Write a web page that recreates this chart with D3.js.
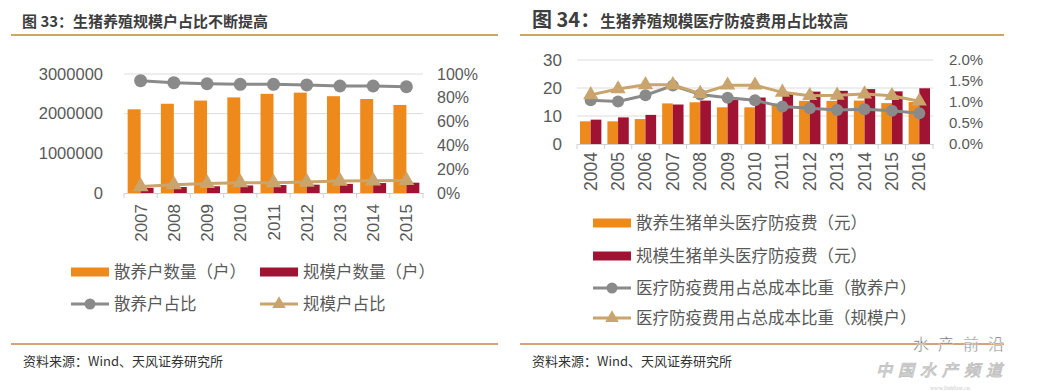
<!DOCTYPE html>
<html lang="zh">
<head>
<meta charset="UTF-8">
<title>生猪养殖规模</title>
<script src="https://d3js.org/d3.v7.min.js"></script>
<style>
  body { margin: 0; background: #fff; }
  svg { display: block; font-family: "Liberation Sans", "Noto Sans CJK SC", sans-serif; }
  .cjk { font-family: "Noto Sans CJK SC", sans-serif; }
</style>
</head>
<body>
<div id="chart"></div>
<script>
// ---- 图33 data ----
var years33 = ["2007", "2008", "2009", "2010", "2011", "2012", "2013", "2014", "2015"];
var sanyangCount = [2110000, 2250000, 2330000, 2410000, 2500000, 2530000, 2440000, 2370000, 2220000];
var guimoCount = [130000, 150000, 170000, 190000, 200000, 210000, 230000, 250000, 260000];
var sanyangShare = [94.4, 92.7, 91.8, 91.3, 91.3, 90.8, 89.9, 89.9, 89.3];
var guimoShare = [5.4, 7.0, 8.0, 8.6, 8.7, 9.2, 10.0, 10.2, 10.6];
var ticks33Left = [0, 1000000, 2000000, 3000000];
var ticks33Right = [0, 20, 40, 60, 80, 100];
var legend33 = ["散养户数量（户）", "规模户数量（户）", "散养户占比", "规模户占比"];

// ---- 图34 data ----
var years34 = ["2004", "2005", "2006", "2007", "2008", "2009", "2010", "2011", "2012", "2013", "2014", "2015", "2016"];
var sanyangFee = [8.1, 8.1, 8.9, 14.5, 14.9, 13.1, 13.1, 14.5, 15.4, 15.4, 15.5, 14.6, 15.0];
var guimoFee = [8.7, 9.5, 10.4, 14.1, 15.5, 15.7, 16.6, 17.9, 18.7, 19.0, 19.6, 18.8, 19.9];
var sanyangRatio = [1.04, 1.01, 1.16, 1.39, 1.18, 1.10, 1.04, 0.89, 0.85, 0.81, 0.83, 0.79, 0.73];
var guimoRatio = [1.17, 1.31, 1.41, 1.41, 1.20, 1.40, 1.40, 1.23, 1.15, 1.16, 1.19, 1.15, 1.02];
var ticks34Left = [0, 10, 20, 30];
var ticks34Right = [0, 0.5, 1.0, 1.5, 2.0];
var legend34 = ["散养生猪单头医疗防疫费（元）", "规模生猪单头医疗防疫费（元）",
    "医疗防疫费用占总成本比重（散养户）", "医疗防疫费用占总成本比重（规模户）"];

var ORANGE = "#ee8a1b", RED = "#a01332", GRAY = "#8a8a8a", TAN = "#c9a46c";
var TXT = "#595959", GRID = "#dcdcdc";

var svg = d3.select("#chart").append("svg")
    .attr("width", 1048)
    .attr("height", 391);

// frames: title, rules, source
function frame(x0, x1, titleParts) {
    var t = svg.append("text").attr("class", "cjk")
        .attr("x", titleParts.x).attr("y", titleParts.y)
        .attr("fill", "#3d3d3d").attr("font-weight", "bold");
    titleParts.parts.forEach(function(p) {
        t.append("tspan").attr("font-size", p.size).text(p.text);
    });
    svg.append("line").attr("x1", x0).attr("x2", x1).attr("y1", 35).attr("y2", 35)
        .attr("stroke", "#c9a862").attr("stroke-width", 2);
    svg.append("line").attr("x1", x0).attr("x2", x1).attr("y1", 344).attr("y2", 344)
        .attr("stroke", "#d3a47c").attr("stroke-width", 2);
    svg.append("text").attr("class", "cjk")
        .attr("x", x0 + 12).attr("y", 366)
        .attr("font-size", 13).attr("fill", "#333")
        .text("资料来源：Wind、天风证券研究所");
}

frame(11, 498, {x: 22, y: 27, parts: [{text: "图 33：生猪养殖规模户占比不断提高", size: 15}]});
frame(520, 1004, {x: 532, y: 27, parts: [{text: "图 34：", size: 20}, {text: "生猪养殖规模医疗防疫费用占比较高", size: 15.5}]});

function panel(cfg) {
    var g = svg.append("g");
    var x = d3.scaleBand().domain(cfg.years).range([cfg.x0, cfg.x1]).paddingInner(0).paddingOuter(0);
    var yl = d3.scaleLinear().domain(cfg.leftDomain).range([cfg.yBase, cfg.yTop]);
    var yr = d3.scaleLinear().domain(cfg.rightDomain).range([cfg.yBase, cfg.yTop]);

    // grid
    g.selectAll("line.grid").data(cfg.leftTicks.slice(1)).enter().append("line")
        .attr("x1", cfg.x0).attr("x2", cfg.x1)
        .attr("y1", function(d) { return yl(d); }).attr("y2", function(d) { return yl(d); })
        .attr("stroke", GRID).attr("stroke-width", 1);

    // left axis
    var la = g.append("g").attr("transform", "translate(" + cfg.leftLabelX + ",0)")
        .call(d3.axisLeft(yl).tickValues(cfg.leftTicks).tickSize(0).tickPadding(0)
            .tickFormat(cfg.leftFormat));
    la.select(".domain").remove();
    la.selectAll("text").attr("font-size", cfg.tickSize).attr("fill", TXT)
        .attr("font-family", "Liberation Sans, sans-serif");

    // right axis
    var ra = g.append("g").attr("transform", "translate(" + cfg.rightLabelX + ",0)")
        .call(d3.axisRight(yr).tickValues(cfg.rightTicks).tickSize(0).tickPadding(0)
            .tickFormat(cfg.rightFormat));
    ra.select(".domain").remove();
    ra.selectAll("text").attr("font-size", cfg.rightTickSize).attr("fill", TXT)
        .attr("font-family", "Liberation Sans, sans-serif");

    // bars
    var bw = x.bandwidth() * 0.39;
    var off = x.bandwidth() * 0.11;
    [[cfg.barA, ORANGE, 0], [cfg.barB, RED, 1]].forEach(function(s) {
        g.selectAll(null).data(s[0]).enter().append("rect")
            .attr("x", function(d, i) { return x(cfg.years[i]) + off + s[2] * bw; })
            .attr("width", bw)
            .attr("y", function(d) { return yl(d); })
            .attr("height", function(d) { return cfg.yBase - yl(d); })
            .attr("fill", s[1]);
    });

    // x axis
    var xa = g.append("g").attr("transform", "translate(0," + cfg.yBase + ")")
        .call(d3.axisBottom(x).tickSize(0).tickFormat(""));
    xa.select(".domain").attr("stroke", "#d0d0d0");
    xa.selectAll(".tick").remove();
    g.selectAll("line.xt").data(cfg.years.concat(["end"])).enter().append("line")
        .attr("x1", function(d, i) { return cfg.x0 + i * x.step(); })
        .attr("x2", function(d, i) { return cfg.x0 + i * x.step(); })
        .attr("y1", cfg.yBase).attr("y2", cfg.yBase + 5)
        .attr("stroke", "#d0d0d0");
    g.selectAll("text.yr").data(cfg.years).enter().append("text")
        .attr("transform", function(d) {
            return "translate(" + (x(d) + x.bandwidth() / 2 + 6) + "," + (cfg.yBase + cfg.yearGap) + ") rotate(-90)";
        })
        .attr("text-anchor", "end")
        .attr("font-size", cfg.yearSize).attr("fill", TXT)
        .text(function(d) { return d; });

    // lines
    var cx = function(d, i) { return x(cfg.years[i]) + x.bandwidth() / 2; };
    var line = d3.line().x(cx).y(function(d) { return yr(d); });
    g.append("path").datum(cfg.lineA).attr("d", line)
        .attr("fill", "none").attr("stroke", GRAY).attr("stroke-width", 3);
    g.selectAll(null).data(cfg.lineA).enter().append("circle")
        .attr("cx", cx).attr("cy", function(d) { return yr(d); })
        .attr("r", cfg.markR).attr("fill", GRAY);
    g.append("path").datum(cfg.lineB).attr("d", line)
        .attr("fill", "none").attr("stroke", TAN).attr("stroke-width", 3);
    var tri = d3.symbol().type(d3.symbolTriangle).size(cfg.triSize);
    g.selectAll(null).data(cfg.lineB).enter().append("path")
        .attr("d", tri())
        .attr("transform", function(d, i) { return "translate(" + cx(d, i) + "," + yr(d) + ")"; })
        .attr("fill", TAN);

    // legend
    var kinds = ["bar", "bar", "circle", "tri"], colors = [ORANGE, RED, GRAY, TAN];
    cfg.legendPos.forEach(function(p, i) {
        var lg = g.append("g").attr("transform", "translate(" + p[0] + "," + p[1] + ")");
        if (kinds[i] === "bar") {
            lg.append("rect").attr("x", 0).attr("y", -4.5).attr("width", 38).attr("height", 9)
                .attr("fill", colors[i]);
        } else {
            lg.append("line").attr("x1", 0).attr("x2", 38).attr("y1", 0).attr("y2", 0)
                .attr("stroke", colors[i]).attr("stroke-width", 3);
            if (kinds[i] === "circle") {
                lg.append("circle").attr("cx", 19).attr("cy", 0).attr("r", 5.5).attr("fill", colors[i]);
            } else {
                lg.append("path").attr("d", d3.symbol().type(d3.symbolTriangle).size(80)())
                    .attr("transform", "translate(19,0)").attr("fill", colors[i]);
            }
        }
        lg.append("text").attr("class", "cjk")
            .attr("x", 43).attr("y", 0).attr("dy", "0.36em")
            .attr("font-size", cfg.legendSize).attr("fill", TXT)
            .text(cfg.legend[i]);
    });
}

panel({
    years: years33, x0: 124, x1: 423, yBase: 193, yTop: 74,
    leftDomain: [0, 3000000], rightDomain: [0, 100],
    leftTicks: ticks33Left, rightTicks: ticks33Right,
    leftFormat: d3.format("d"), rightFormat: function(d) { return d + "%"; },
    leftLabelX: 103, rightLabelX: 437, tickSize: 16.5, rightTickSize: 16,
    yearSize: 17, yearGap: 11, barA: sanyangCount, barB: guimoCount,
    lineA: sanyangShare, lineB: guimoShare, markR: 6.5, triSize: 110,
    legend: legend33, legendSize: 16.5,
    legendPos: [[71, 272], [260, 272], [71, 304], [260, 304]]
});

panel({
    years: years34, x0: 577, x1: 933, yBase: 144, yTop: 60,
    leftDomain: [0, 30], rightDomain: [0, 2.0],
    leftTicks: ticks34Left, rightTicks: ticks34Right,
    leftFormat: d3.format("d"), rightFormat: function(d) { return d.toFixed(1) + "%"; },
    leftLabelX: 562, rightLabelX: 949, tickSize: 17, rightTickSize: 15,
    yearSize: 17.5, yearGap: 8, barA: sanyangFee, barB: guimoFee,
    lineA: sanyangRatio, lineB: guimoRatio, markR: 6, triSize: 100,
    legend: legend34, legendSize: 16.5,
    legendPos: [[593, 223], [593, 256], [593, 288], [593, 318]]
});

// watermark
var wm = svg.append("g").attr("class", "cjk");
wm.append("text").attr("x", 913).attr("y", 350)
    .attr("font-size", 16).attr("fill", "#666").attr("stroke", "#fff").attr("stroke-width", 0.5)
    .attr("letter-spacing", 9).text("水产前沿");
wm.append("text").attr("x", 876).attr("y", 376)
    .attr("font-size", 16).attr("fill", "#fff").attr("stroke", "#c4c4c4").attr("stroke-width", 1)
    .attr("letter-spacing", 6).attr("font-style", "italic").text("中国水产频道");
wm.append("text").attr("x", 930).attr("y", 390)
    .attr("font-size", 6).attr("fill", "#c8c8c8").attr("font-family", "Liberation Serif, serif")
    .text("www.fishfirst.cn");
</script>
</body>
</html>
